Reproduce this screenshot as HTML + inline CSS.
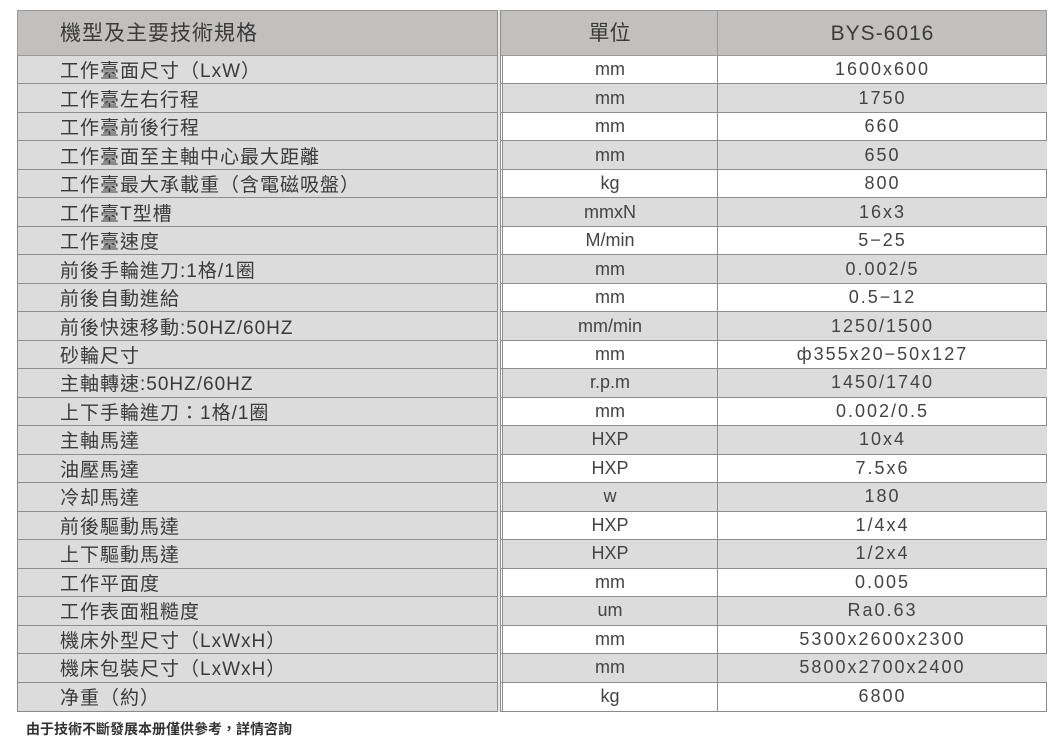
<!DOCTYPE html>
<html><head><meta charset="utf-8"><style>
*{margin:0;padding:0;box-sizing:border-box}
body{width:1061px;height:747px;background:#fff;position:relative;overflow:hidden;font-family:"Liberation Sans","Noto Sans CJK TC",sans-serif;color:#3a3a3a}
#hdr{position:absolute;left:17px;top:10px;width:1030px;height:45px;background:#c1c0bf;border:1px solid #9a9a9a;border-bottom:none}
#hdr div{position:absolute;top:0;height:45px;line-height:45px;font-size:21px}
#grid{position:absolute;left:17px;top:55px;width:1030px;height:657px;display:grid;grid-template-rows:repeat(23,1fr);border:1px solid #8a8a8a;border-top:1px solid #9a9a9a}
.r{position:relative;border-bottom:1px solid #8e8e8e}
.r:last-child{border-bottom:none}
.r div{position:absolute;top:0;bottom:0;display:flex;align-items:center;font-size:19px}
.a{left:0;width:480px;background:#dcdcdc;padding-left:42px;letter-spacing:1px}
.b{left:484px;width:215px;justify-content:center;border-left:1px solid #8e8e8e;font-size:18px!important;color:#444}
.c{left:699px;width:330px;justify-content:center;border-left:1px solid #8e8e8e;letter-spacing:2px;font-size:18px!important;color:#444}
.g .b,.g .c{background:#dcdcdc}
.gap{position:absolute;left:497px;top:10px;width:4px;height:702px;border-left:1px solid #8e8e8e;border-right:1px solid #8e8e8e;background:#e8e8e8}
#note{position:absolute;left:26px;top:719px;font-size:14px;font-weight:bold;color:#333}
</style></head><body>
<div id="hdr">
<div style="left:42px;letter-spacing:1px">機型及主要技術規格</div>
<div style="left:484px;width:215px;text-align:center">單位</div>
<div style="left:699px;width:330px;text-align:center;border-left:1px solid #9a9a9a;letter-spacing:1px">BYS-6016</div>
</div>
<div id="grid">
<div class="r"><div class="a">工作臺面尺寸（LxW）</div><div class="b">mm</div><div class="c">1600x600</div></div>
<div class="r g"><div class="a">工作臺左右行程</div><div class="b">mm</div><div class="c">1750</div></div>
<div class="r"><div class="a">工作臺前後行程</div><div class="b">mm</div><div class="c">660</div></div>
<div class="r g"><div class="a">工作臺面至主軸中心最大距離</div><div class="b">mm</div><div class="c">650</div></div>
<div class="r"><div class="a">工作臺最大承載重（含電磁吸盤）</div><div class="b">kg</div><div class="c">800</div></div>
<div class="r g"><div class="a">工作臺T型槽</div><div class="b">mmxN</div><div class="c">16x3</div></div>
<div class="r"><div class="a">工作臺速度</div><div class="b">M/min</div><div class="c">5−25</div></div>
<div class="r g"><div class="a">前後手輪進刀:1格/1圈</div><div class="b">mm</div><div class="c">0.002/5</div></div>
<div class="r"><div class="a">前後自動進給</div><div class="b">mm</div><div class="c">0.5−12</div></div>
<div class="r g"><div class="a">前後快速移動:50HZ/60HZ</div><div class="b">mm/min</div><div class="c">1250/1500</div></div>
<div class="r"><div class="a">砂輪尺寸</div><div class="b">mm</div><div class="c">ф355x20−50x127</div></div>
<div class="r g"><div class="a">主軸轉速:50HZ/60HZ</div><div class="b">r.p.m</div><div class="c">1450/1740</div></div>
<div class="r"><div class="a">上下手輪進刀：1格/1圈</div><div class="b">mm</div><div class="c">0.002/0.5</div></div>
<div class="r g"><div class="a">主軸馬達</div><div class="b">HXP</div><div class="c">10x4</div></div>
<div class="r"><div class="a">油壓馬達</div><div class="b">HXP</div><div class="c">7.5x6</div></div>
<div class="r g"><div class="a">冷却馬達</div><div class="b">w</div><div class="c">180</div></div>
<div class="r"><div class="a">前後驅動馬達</div><div class="b">HXP</div><div class="c">1/4x4</div></div>
<div class="r g"><div class="a">上下驅動馬達</div><div class="b">HXP</div><div class="c">1/2x4</div></div>
<div class="r"><div class="a">工作平面度</div><div class="b">mm</div><div class="c">0.005</div></div>
<div class="r g"><div class="a">工作表面粗糙度</div><div class="b">um</div><div class="c">Ra0.63</div></div>
<div class="r"><div class="a">機床外型尺寸（LxWxH）</div><div class="b">mm</div><div class="c">5300x2600x2300</div></div>
<div class="r g"><div class="a">機床包裝尺寸（LxWxH）</div><div class="b">mm</div><div class="c">5800x2700x2400</div></div>
<div class="r"><div class="a">净重（約）</div><div class="b">kg</div><div class="c">6800</div></div>
</div>
<div class="gap"></div>
<div id="note">由于技術不斷發展本册僅供參考，詳情咨詢</div>
</body></html>
